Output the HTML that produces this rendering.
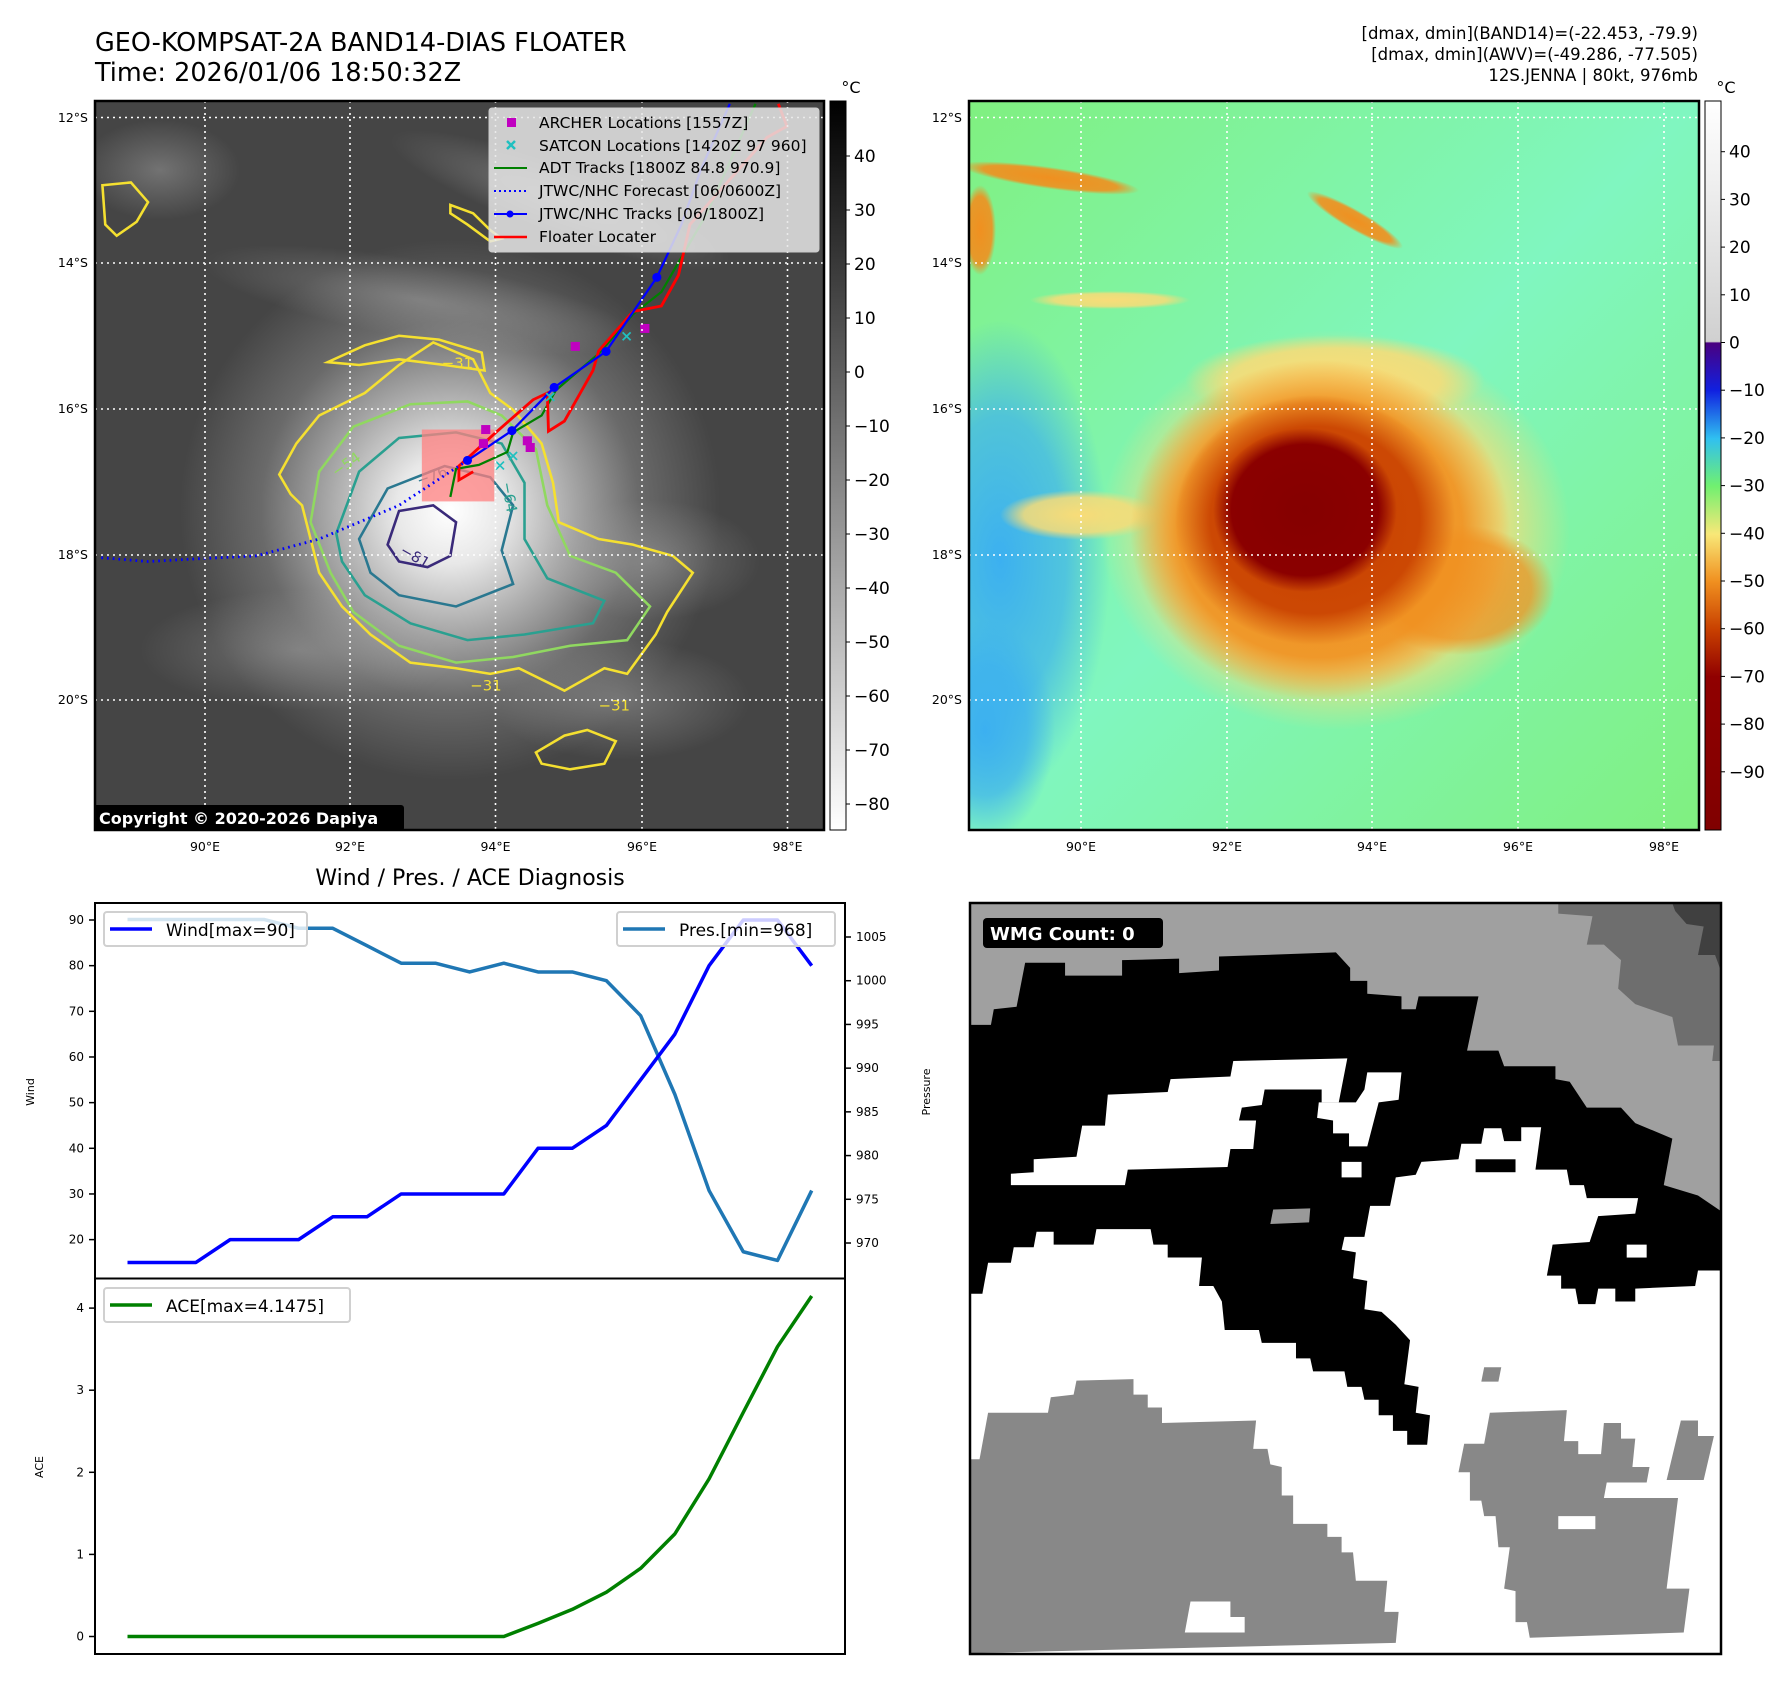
<!DOCTYPE html>
<html><head><meta charset="utf-8"><style>
html,body{margin:0;padding:0;background:#fff;width:1788px;height:1690px;overflow:hidden;position:relative;}
svg{position:absolute;left:0;top:0;font-family:"DejaVu Sans","Liberation Sans",sans-serif;}
</style></head><body>
<svg width="1788" height="1690" viewBox="0 0 1788 1690" xmlns="http://www.w3.org/2000/svg">
<defs>
<clipPath id="clipL"><rect x="95" y="101" width="729" height="729"/></clipPath>
<clipPath id="clipR"><rect x="969" y="101" width="730" height="729"/></clipPath>
<clipPath id="clipW"><rect x="970" y="903" width="751" height="751"/></clipPath>
<radialGradient id="cloud" cx="450" cy="510" r="270" gradientUnits="userSpaceOnUse">
<stop offset="0" stop-color="#ffffff"/><stop offset="0.2" stop-color="#e8e8e8"/><stop offset="0.45" stop-color="#a8a8a8"/><stop offset="0.7" stop-color="#6a6a6a"/><stop offset="1" stop-color="#454545"/></radialGradient>
<radialGradient id="sGray"><stop offset="0" stop-color="#aaaaaa" stop-opacity="0.45"/><stop offset="1" stop-color="#aaaaaa" stop-opacity="0"/></radialGradient>
<radialGradient id="sBlue"><stop offset="0" stop-color="#3cb0f0" stop-opacity="1"/><stop offset="0.6" stop-color="#3cb0f0" stop-opacity="0.7"/><stop offset="1" stop-color="#3cb0f0" stop-opacity="0"/></radialGradient>
<radialGradient id="sYel"><stop offset="0" stop-color="#f8dc78" stop-opacity="1"/><stop offset="0.7" stop-color="#f8dc78" stop-opacity="0.85"/><stop offset="1" stop-color="#f8dc78" stop-opacity="0"/></radialGradient>
<radialGradient id="sOra"><stop offset="0" stop-color="#f09020" stop-opacity="1"/><stop offset="0.75" stop-color="#f09020" stop-opacity="0.9"/><stop offset="1" stop-color="#f09020" stop-opacity="0"/></radialGradient>
<radialGradient id="sRed"><stop offset="0" stop-color="#c84000" stop-opacity="1"/><stop offset="0.75" stop-color="#c84000" stop-opacity="0.9"/><stop offset="1" stop-color="#c84000" stop-opacity="0"/></radialGradient>
<radialGradient id="sDark"><stop offset="0" stop-color="#850000" stop-opacity="1"/><stop offset="0.8" stop-color="#8b0000" stop-opacity="1"/><stop offset="1" stop-color="#8b0000" stop-opacity="0"/></radialGradient>
<linearGradient id="cbGray" x1="0" y1="0" x2="0" y2="1"><stop offset="0" stop-color="#000"/><stop offset="1" stop-color="#fff"/></linearGradient>
<linearGradient id="cbRain" x1="0" y1="0" x2="0" y2="1">
<stop offset="0" stop-color="#ffffff"/><stop offset="0.33" stop-color="#d0d0d0"/><stop offset="0.332" stop-color="#4a0080"/>
<stop offset="0.397" stop-color="#1020e0"/><stop offset="0.463" stop-color="#30c0f0"/><stop offset="0.528" stop-color="#70f070"/>
<stop offset="0.594" stop-color="#f8e878"/><stop offset="0.659" stop-color="#f09020"/><stop offset="0.725" stop-color="#c84000"/>
<stop offset="0.79" stop-color="#900000"/><stop offset="1" stop-color="#800000"/></linearGradient>
<linearGradient id="tintTR" x1="0" y1="0" x2="1" y2="1"><stop offset="0" stop-color="#80f8d0" stop-opacity="0"/><stop offset="0.5" stop-color="#80f8d0" stop-opacity="0.8"/><stop offset="1" stop-color="#80f8d0" stop-opacity="0"/></linearGradient>
</defs>

<text x="95" y="51" font-size="25.5" fill="#000">GEO-KOMPSAT-2A BAND14-DIAS FLOATER</text>
<text x="95" y="81" font-size="25.5" fill="#000">Time: 2026/01/06 18:50:32Z</text>
<g font-size="16.5" text-anchor="end" fill="#000">
<text x="1698" y="39">[dmax, dmin](BAND14)=(-22.453, -79.9)</text>
<text x="1698" y="60">[dmax, dmin](AWV)=(-49.286, -77.505)</text>
<text x="1698" y="81">12S.JENNA | 80kt, 976mb</text>
</g>

<g font-size="12.5" fill="#000" text-anchor="end">
<text x="88" y="122">12&#176;S</text><text x="88" y="267">14&#176;S</text><text x="88" y="413">16&#176;S</text><text x="88" y="559">18&#176;S</text><text x="88" y="704">20&#176;S</text></g>
<g font-size="12.5" fill="#000" text-anchor="middle">
<text x="205" y="851">90&#176;E</text><text x="350" y="851">92&#176;E</text><text x="495.5" y="851">94&#176;E</text><text x="642" y="851">96&#176;E</text><text x="787.5" y="851">98&#176;E</text></g>
<g font-size="12.5" fill="#000" text-anchor="end">
<text x="962" y="122">12&#176;S</text><text x="962" y="267">14&#176;S</text><text x="962" y="413">16&#176;S</text><text x="962" y="559">18&#176;S</text><text x="962" y="704">20&#176;S</text></g>
<g font-size="12.5" fill="#000" text-anchor="middle">
<text x="1081" y="851">90&#176;E</text><text x="1227" y="851">92&#176;E</text><text x="1372" y="851">94&#176;E</text><text x="1518" y="851">96&#176;E</text><text x="1664" y="851">98&#176;E</text></g>

<rect x="830" y="101" width="16" height="729" fill="url(#cbGray)" stroke="#000" stroke-width="1"/>
<text x="851" y="93" font-size="16" text-anchor="middle">&#176;C</text>
<g id="cbL" font-size="17" fill="#000"></g>
<rect x="1705" y="101" width="16" height="729" fill="url(#cbRain)" stroke="#000" stroke-width="1"/>
<text x="1726" y="93" font-size="16" text-anchor="middle">&#176;C</text>
<g id="cbR" font-size="17" fill="#000"></g>

<!-- RIGHT MAP -->
<g clip-path="url(#clipR)">
<rect x="969" y="101" width="730" height="729" fill="#80f080"/>
<rect x="969" y="101" width="730" height="729" fill="url(#tintTR)"/>
<ellipse cx="1000" cy="560" rx="110" ry="240" fill="url(#sBlue)"/>
<ellipse cx="985" cy="730" rx="70" ry="110" fill="url(#sBlue)"/>
<ellipse cx="1335" cy="530" rx="235" ry="200" fill="url(#sYel)"/>
<ellipse cx="1460" cy="590" rx="95" ry="65" fill="url(#sOra)" opacity="0.8"/>
<ellipse cx="1335" cy="380" rx="150" ry="45" fill="url(#sYel)"/>
<ellipse cx="1080" cy="515" rx="80" ry="25" fill="url(#sYel)"/>
<ellipse cx="1320" cy="530" rx="190" ry="170" fill="url(#sOra)"/>
<ellipse cx="1315" cy="520" rx="140" ry="125" fill="url(#sRed)"/>
<ellipse cx="1305" cy="510" rx="92" ry="82" fill="url(#sDark)"/>
<ellipse cx="1050" cy="178" rx="90" ry="11" fill="url(#sOra)" transform="rotate(8 1050 178)"/>
<ellipse cx="1355" cy="220" rx="55" ry="10" fill="url(#sOra)" transform="rotate(30 1355 220)"/>
<ellipse cx="980" cy="230" rx="16" ry="45" fill="url(#sOra)"/>
<ellipse cx="1110" cy="300" rx="80" ry="9" fill="url(#sYel)"/>
</g>
<g stroke="#fff" stroke-width="1.6" stroke-dasharray="2,4">
<line x1="969" x2="1699" y1="117.5" y2="117.5"/><line x1="969" x2="1699" y1="263" y2="263"/><line x1="969" x2="1699" y1="409" y2="409"/><line x1="969" x2="1699" y1="555" y2="555"/><line x1="969" x2="1699" y1="700" y2="700"/>
<line y1="101" y2="830" x1="1081" x2="1081"/><line y1="101" y2="830" x1="1227" x2="1227"/><line y1="101" y2="830" x1="1372" x2="1372"/><line y1="101" y2="830" x1="1518" x2="1518"/><line y1="101" y2="830" x1="1664" x2="1664"/>
</g>
<rect x="969" y="101" width="730" height="729" fill="none" stroke="#000" stroke-width="2.5"/>

<!-- DIAGNOSIS CHART -->
<text x="470" y="885" font-size="22" text-anchor="middle">Wind / Pres. / ACE Diagnosis</text>
<g id="chart"></g>
<rect x="95" y="903" width="750" height="751" fill="none" stroke="#000" stroke-width="2"/>
<line x1="95" x2="845" y1="1278.5" y2="1278.5" stroke="#000" stroke-width="2"/>
<text transform="translate(34 1092) rotate(-90)" font-size="11" text-anchor="middle">Wind</text>
<text transform="translate(930 1092) rotate(-90)" font-size="11" text-anchor="middle">Pressure</text>
<text transform="translate(43 1467) rotate(-90)" font-size="11" text-anchor="middle">ACE</text>
<g><rect x="104" y="912" width="203" height="34" rx="3" fill="#fff" fill-opacity="0.8" stroke="#d0d0d0" stroke-width="2"/>
<line x1="110" x2="152" y1="929" y2="929" stroke="#0000ff" stroke-width="3.5"/><text x="166" y="936" font-size="17">Wind[max=90]</text></g>
<g><rect x="617" y="912" width="218" height="34" rx="3" fill="#fff" fill-opacity="0.8" stroke="#d0d0d0" stroke-width="2"/>
<line x1="623" x2="665" y1="929" y2="929" stroke="#1f77b4" stroke-width="3.5"/><text x="679" y="936" font-size="17">Pres.[min=968]</text></g>
<g><rect x="104" y="1288" width="246" height="34" rx="3" fill="#fff" fill-opacity="0.8" stroke="#d0d0d0" stroke-width="2"/>
<line x1="110" x2="152" y1="1305" y2="1305" stroke="#008000" stroke-width="3.5"/><text x="166" y="1312" font-size="17">ACE[max=4.1475]</text></g>

<!-- WMG -->
<g clip-path="url(#clipW)">
<rect x="970" y="903" width="751" height="751" fill="#fff"/>
<g transform="translate(894,880) scale(0.5702,0.5172)" stroke="none">
<polygon fill="#000" points="134,45 1450,45 1450,755 1410,755 1405,785 1300,790 1300,815 1265,815 1265,790 1235,790 1230,820 1200,820 1195,790 1170,790 1170,765 1145,765 1155,705 1220,700 1235,650 1300,645 1305,615 1215,615 1210,590 1185,590 1180,560 1125,560 1135,478 1100,478 1100,505 1070,505 1065,480 1035,480 1030,510 995,510 990,540 925,545 915,570 880,575 870,630 835,630 825,690 790,690 785,715 810,720 805,770 830,775 825,830 855,835 880,860 905,890 895,975 920,980 915,1030 940,1035 935,1092 900,1092 900,1065 875,1065 875,1035 850,1035 850,1005 825,1005 820,980 795,980 790,950 735,950 730,925 705,925 705,895 645,895 640,870 580,870 575,815 560,785 535,785 540,730 480,730 480,705 455,705 450,675 355,675 350,705 280,705 280,680 250,680 245,710 210,710 205,740 165,740 155,800 134,800"/>
<polygon fill="#a0a0a0" points="134,45 1450,45 1450,640 1410,610 1350,590 1365,500 1300,470 1275,440 1215,440 1185,390 1160,385 1160,360 1070,360 1060,330 1005,330 1025,225 920,225 915,250 890,250 890,225 830,220 830,195 800,195 800,170 775,140 570,148 570,175 500,180 500,152 400,155 400,185 300,185 300,160 230,160 215,245 175,250 170,280 134,280"/>
<polygon fill="#6e6e6e" points="1165,45 1450,45 1450,350 1435,350 1438,320 1375,320 1365,265 1300,240 1270,210 1275,155 1245,125 1215,125 1225,70 1165,65"/>
<polygon fill="#404040" points="1365,45 1450,45 1450,175 1440,145 1410,145 1420,90 1390,85 1370,60"/>
<polygon fill="#fff" points="205,590 205,568 245,565 245,540 320,535 330,475 370,475 375,415 480,410 485,385 590,380 595,350 795,345 780,430 750,430 750,405 650,405 645,435 610,440 605,465 635,465 630,520 590,520 585,555 410,560 405,590"/>
<polygon fill="#fff" points="830,372 890,372 885,425 850,430 830,515 798,515 798,490 770,490 770,465 742,460 745,430 810,430 825,405"/>
<rect x="785" y="545" width="35" height="30" fill="#fff"/>
<rect x="1020" y="540" width="70" height="25" fill="#000"/>
<rect x="1285" y="705" width="35" height="25" fill="#fff"/>
<polygon fill="#999" points="665,637 730,635 728,662 660,665"/>
<polygon fill="#888" points="134,1120 150,1120 165,1030 270,1030 275,1000 315,995 320,968 420,965 420,995 445,995 445,1020 470,1020 470,1050 635,1045 630,1100 655,1100 660,1130 680,1135 680,1190 700,1190 700,1245 760,1245 760,1270 785,1270 785,1300 805,1300 810,1355 865,1355 860,1415 885,1415 880,1475 134,1495"/>
<polygon fill="#fff" points="520,1395 590,1395 590,1425 615,1425 615,1455 510,1455"/>
<polygon fill="#888" points="990,1145 1000,1090 1035,1090 1045,1030 1180,1025 1175,1085 1200,1085 1200,1110 1240,1110 1245,1050 1275,1050 1275,1080 1300,1080 1295,1135 1325,1135 1320,1165 1250,1165 1245,1195 1375,1195 1355,1370 1395,1370 1385,1455 1115,1465 1110,1435 1090,1435 1090,1375 1070,1370 1080,1290 1060,1290 1055,1230 1035,1230 1030,1200 1010,1200 1010,1145"/>
<polygon fill="#fff" points="1165,1230 1230,1230 1230,1255 1165,1255"/>
<polygon fill="#888" points="1380,1045 1410,1045 1410,1075 1438,1075 1420,1160 1355,1160"/>
<polygon fill="#888" points="1035,942 1065,942 1060,970 1030,970"/>
</g>
</g>
<rect x="970" y="903" width="751" height="751" fill="none" stroke="#000" stroke-width="2.5"/>
<rect x="983" y="918" width="180" height="30" rx="4" fill="#000"/>
<text x="990" y="940" font-size="18" font-weight="bold" fill="#fff">WMG Count: 0</text>

<!-- LEFT MAP -->
<g clip-path="url(#clipL)">
<rect x="95" y="101" width="729" height="729" fill="#454545"/>
<rect x="95" y="101" width="729" height="729" fill="url(#cloud)"/>
<ellipse cx="160" cy="170" rx="80" ry="50" fill="url(#sGray)"/>
<ellipse cx="420" cy="300" rx="220" ry="40" fill="url(#sGray)" transform="rotate(10 420 300)"/>
<ellipse cx="560" cy="200" rx="180" ry="35" fill="url(#sGray)" transform="rotate(20 560 200)"/>
<ellipse cx="650" cy="560" rx="110" ry="60" fill="url(#sGray)"/>
<ellipse cx="300" cy="650" rx="160" ry="60" fill="url(#sGray)"/>
<ellipse cx="620" cy="700" rx="130" ry="60" fill="url(#sGray)"/>
<g transform="translate(95,101) scale(0.5704,0.5616) translate(-167,-180)" fill="none" stroke-width="4.5">
<polygon stroke="#f5e030" points="490,845 520,790 560,740 600,720 640,700 700,650 760,610 830,640 860,700 900,730 950,790 970,860 980,930 1050,960 1110,970 1180,990 1215,1020 1170,1090 1150,1130 1100,1200 1060,1190 990,1230 910,1190 860,1200 800,1190 720,1180 650,1130 600,1080 560,1020 545,960 530,900 510,880"/>
<polygon stroke="#f5e030" points="575,645 640,615 700,598 770,605 845,628 850,660 780,650 700,640 630,650"/>
<polygon stroke="#f5e030" points="180,330 230,325 260,360 240,395 205,420 185,400"/>
<polygon stroke="#f5e030" points="940,1340 990,1310 1030,1300 1080,1320 1060,1360 1000,1370 950,1360"/>
<polygon stroke="#f5e030" points="790,365 830,380 860,410 880,425 860,430 820,400 790,380"/>
<polygon stroke="#90d860" points="545,930 560,840 620,760 720,720 820,715 880,740 940,800 960,900 1000,990 1080,1020 1140,1080 1100,1140 1000,1150 900,1170 800,1180 700,1150 620,1090 580,1020"/>
<polygon stroke="#2aa090" points="590,950 630,840 700,780 800,770 880,790 920,860 920,960 960,1030 1060,1070 1040,1110 920,1130 820,1140 720,1110 640,1060 600,1000"/>
<polygon stroke="#2a7890" points="630,960 680,870 780,830 860,850 900,900 880,980 900,1040 800,1080 700,1060 650,1020"/>
<polygon stroke="#3a2a7a" points="680,970 700,910 760,900 800,930 790,990 750,1010 700,1000"/>
<text x="775" y="655" font-size="26" fill="#f5e030" stroke="none">&#8722;31</text>
<text x="590" y="850" font-size="26" fill="#90d860" stroke="none" transform="rotate(-35 590 850)">&#8722;54</text>
<text x="735" y="865" font-size="26" fill="#2a7890" stroke="none" transform="rotate(-20 735 865)">&#8722;76</text>
<text x="700" y="985" font-size="26" fill="#3a2a7a" stroke="none" transform="rotate(30 700 985)">&#8722;81</text>
<text x="880" y="860" font-size="26" fill="#2aa090" stroke="none" transform="rotate(80 880 860)">&#8722;64</text>
<text x="825" y="1230" font-size="26" fill="#f5e030" stroke="none">&#8722;31</text>
<text x="1050" y="1265" font-size="26" fill="#f5e030" stroke="none">&#8722;31</text>
<rect x="740" y="765" width="127" height="128" fill="#ff8080" fill-opacity="0.75" stroke="none"/>
<polyline stroke="#008000" stroke-width="4" points="1325,185 1240,380 1160,520 1110,560 1050,630 975,695 950,740 900,770 890,805 840,828 800,835 790,885"/>
<polyline stroke="#ff0000" stroke-width="5" points="1365,185 1380,225 1345,245 1210,400 1190,490 1160,545 1110,555 1050,625 1040,660 990,750 962,768 960,700 935,712 870,770 805,830 805,855 830,840"/>
<polyline stroke="#0000ff" stroke-width="4" points="1280,185 1230,300 1195,400 1152,494 1063,626 972,690 898,767 820,820"/>
<polyline stroke="#0000ff" stroke-width="5" stroke-dasharray="3,7" points="820,820 700,900 560,960 450,990 350,995 260,1000 175,993"/>
<g fill="#0000ff" stroke="none"><circle cx="1152" cy="494" r="8"/><circle cx="1063" cy="626" r="8"/><circle cx="972" cy="690" r="8"/><circle cx="898" cy="767" r="8"/><circle cx="820" cy="820" r="8"/></g>
<g fill="#c000c0" stroke="none"><rect x="1001" y="609" width="16" height="16"/><rect x="1123" y="577" width="16" height="16"/><rect x="844" y="757" width="16" height="16"/><rect x="840" y="782" width="16" height="16"/><rect x="917" y="777" width="16" height="16"/><rect x="922" y="789" width="16" height="16"/></g>
<g stroke="#20c0c0" stroke-width="3"><path d="M1092 592l14 14M1106 592l-14 14M958 700l14 14M972 700l-14 14M893 805l14 14M907 805l-14 14M870 822l14 14M884 822l-14 14"/></g>
</g>
<g stroke="#fff" stroke-width="1.6" stroke-dasharray="2,4">
<line x1="95" x2="824" y1="117.5" y2="117.5"/><line x1="95" x2="824" y1="263" y2="263"/><line x1="95" x2="824" y1="409" y2="409"/><line x1="95" x2="824" y1="555" y2="555"/><line x1="95" x2="824" y1="700" y2="700"/>
<line y1="101" y2="830" x1="205" x2="205"/><line y1="101" y2="830" x1="350" x2="350"/><line y1="101" y2="830" x1="495.5" x2="495.5"/><line y1="101" y2="830" x1="642" x2="642"/><line y1="101" y2="830" x1="787.5" x2="787.5"/>
</g>
<rect x="93" y="805" width="311" height="26" rx="3" fill="#000"/>
</g>
<text x="99" y="824" font-size="16" font-weight="bold" fill="#fff">Copyright &#169; 2020-2026 Dapiya</text>
<g>
<rect x="489" y="108" width="330" height="144" fill="#e6e6e6" fill-opacity="0.85" stroke="#ccc" rx="3"/>
<g font-size="15.5" fill="#000">
<rect x="507" y="118" width="9" height="9" fill="#c000c0"/><text x="539" y="128">ARCHER Locations [1557Z]</text>
<path d="M507 141l8 8M515 141l-8 8" stroke="#20c0c0" stroke-width="2.5"/><text x="539" y="151">SATCON Locations [1420Z 97 960]</text>
<line x1="494" x2="527" y1="168" y2="168" stroke="#008000" stroke-width="2"/><text x="539" y="173">ADT Tracks [1800Z 84.8 970.9]</text>
<line x1="494" x2="527" y1="191" y2="191" stroke="#0000ff" stroke-width="2" stroke-dasharray="2,3"/><text x="539" y="196">JTWC/NHC Forecast [06/0600Z]</text>
<line x1="494" x2="527" y1="214" y2="214" stroke="#0000ff" stroke-width="2"/><circle cx="510" cy="214" r="3.5" fill="#0000ff"/><text x="539" y="219">JTWC/NHC Tracks [06/1800Z]</text>
<line x1="494" x2="527" y1="237" y2="237" stroke="#ff0000" stroke-width="2.5"/><text x="539" y="242">Floater Locater</text>
</g></g>
<rect x="95" y="101" width="729" height="729" fill="none" stroke="#000" stroke-width="2.5"/>
</svg>
<script>
const windVals = [15,15,15,20,20,20,25,25,30,30,30,30,40,40,45,55,65,80,90,90,80];
const presVals = [1007,1007,1007,1007,1007,1006,1006,1004,1002,1002,1001,1002,1001,1001,1000,996,987,976,969,968,976];
const aceVals = [0,0,0,0,0,0,0,0,0,0,0,0,0.16,0.33,0.54,0.83,1.25,1.92,2.73,3.53,4.1475];
const windTicks = [20,30,40,50,60,70,80,90];
const presTicks = [970,975,980,985,990,995,1000,1005];
const aceTicks = [0,1,2,3,4];
const cbLTicks = [40,30,20,10,0,-10,-20,-30,-40,-50,-60,-70,-80];
const cbRTicks = [40,30,20,10,0,-10,-20,-30,-40,-50,-60,-70,-80,-90];

const NS='http://www.w3.org/2000/svg';
function xs(i){return 127.5+i*(811.7-127.5)/(windVals.length-1);}
function yW(v){return 920+(90-v)*4.566;}
function yP(p){return 937+(1005-p)*8.743;}
function yA(a){return 1636.5-a*82.1;}
function yCL(v){return 156+(40-v)*5.4;}
function yCR(v){return 151.7+(40-v)*4.77;}
function mk(tag,attrs,parent){const e=document.createElementNS(NS,tag);for(const k in attrs)e.setAttribute(k,attrs[k]);parent.appendChild(e);return e;}
try{
const chart=document.getElementById('chart');
function line(vals,yf,color,name){
  const p=mk('polyline',{points:vals.map((v,i)=>xs(i)+','+yf(v)).join(' '),fill:'none',stroke:color,'stroke-width':3.5,'stroke-linejoin':'round'},chart);
  
  
}
line(presVals,yP,'#1f77b4','pressure-line');
line(windVals,yW,'#0000ff','wind-line');
line(aceVals,yA,'#008000','ace-line');
function ticks(arr,yf,side,name){
  arr.forEach(v=>{
    const y=yf(v);
    const x0=side==='left'?95:845, x1=side==='left'?89:851;
    const t=mk('line',{x1:x0,x2:x1,y1:y,y2:y,stroke:'#000','stroke-width':1.5},chart);
    
    
    const tx=mk('text',{x:side==='left'?84:856,y:y+4,'font-size':12,'text-anchor':side==='left'?'end':'start'},chart);
    tx.textContent=String(v);
    
    
  });
}
ticks(windTicks,yW,'left','wind');
ticks(presTicks,yP,'right','pressure');
ticks(aceTicks,yA,'left','ace');
function cb(id,arr,yf,x){
  const g=document.getElementById(id);
  arr.forEach(v=>{
    const y=yf(v);
    mk('line',{x1:x,x2:x+4,y1:y,y2:y,stroke:'#000','stroke-width':1},g);
    const t=mk('text',{x:x+8,y:y+6},g);
    t.textContent=v<0?'\u2212'+Math.abs(v):String(v);
    
    
  });
}
cb('cbL',cbLTicks,yCL,846);
cb('cbR',cbRTicks,yCR,1721);
}catch(e){}
</script>
</body></html>
